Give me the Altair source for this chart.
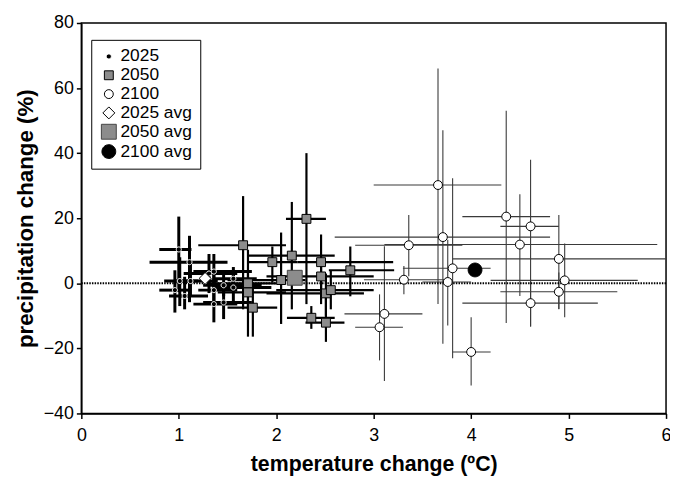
import altair as alt
import pandas as pd

# ---------------- data ----------------
# 2025 individual models: best estimate and error ranges
t25 = [1.00, 1.11, 1.01, 1.12, 0.96, 1.06, 1.31, 1.36, 1.36, 1.46, 1.56, 1.56, 1.36, 1.46]
p25 = [10.4, 6.5, 0.7, 0.7, -2.1, -3.9, 3.0, 3.6, -2.1, -0.6, 1.4, -1.3, -6.4, -5.9]
t25_lo = [0.80, 0.70, 0.85, 0.95, 0.80, 0.90, 1.05, 1.15, 1.20, 1.25, 1.35, 1.35, 1.15, 1.25]
t25_hi = [1.13, 1.50, 1.20, 1.40, 1.10, 1.30, 1.60, 1.75, 1.60, 1.85, 1.80, 1.95, 1.60, 1.75]
p25_lo = [-2.7, -5.8, -7.0, -4.0, -9.0, -8.0, -3.0, -2.0, -7.0, -4.0, -2.0, -6.0, -12.0, -11.0]
p25_hi = [20.5, 14.6, 8.0, 7.0, 4.0, 2.0, 9.0, 9.0, 3.0, 4.0, 5.0, 3.0, -1.0, -2.0]

# 2050 individual models
t50 = [1.66, 2.31, 2.16, 1.96, 2.46, 2.76, 2.46, 2.05, 1.71, 1.71, 1.76, 2.51, 2.56, 2.36, 2.51]
p50 = [11.7, 19.8, 8.5, 6.5, 6.5, 4.0, 2.1, 1.0, 0.0, -2.8, -7.5, -3.1, -2.1, -10.6, -12.1]
t50_lo = [1.20, 2.10, 1.71, 1.71, 2.22, 2.54, 1.90, 1.50, 1.30, 1.40, 1.50, 1.90, 2.00, 2.11, 2.30]
t50_hi = [2.10, 2.51, 2.60, 2.22, 3.20, 3.21, 3.00, 2.30, 2.00, 2.10, 2.01, 2.90, 3.00, 2.60, 2.70]
p50_lo = [-8.0, -6.4, -8.0, 0.3, -6.4, -4.0, -3.0, -12.5, -16.4, -8.0, -16.4, -10.0, -8.0, -14.0, -18.0]
p50_hi = [26.8, 40.0, 25.0, 11.3, 15.0, 11.3, 8.0, 15.6, 10.3, 4.0, 0.0, 3.0, 4.0, -7.0, -3.0]

# 2100 individual models
t100 = [3.66, 3.71, 3.36, 3.81, 3.31, 3.76, 3.11, 3.06, 4.00, 4.36, 4.61, 4.50, 4.90, 4.96, 4.90, 4.61]
p100 = [30.2, 14.2, 11.7, 4.6, 1.1, 0.4, -9.4, -13.5, -21.1, 20.5, 17.5, 11.9, 7.5, 0.9, -2.6, -6.1]
t100_lo = [3.00, 2.60, 2.81, 3.30, 2.90, 3.50, 2.70, 2.81, 3.81, 3.91, 4.30, 3.11, 3.81, 4.20, 4.30, 3.91]
t100_hi = [4.31, 4.81, 3.91, 4.20, 3.74, 4.00, 3.50, 3.30, 4.20, 4.81, 4.90, 5.91, 6.00, 5.71, 5.50, 5.30]
p100_lo = [-6.4, -18.6, 2.2, -23.0, -3.4, -13.0, -30.0, -23.7, -31.4, -12.2, -13.3, -3.9, -7.9, -10.4, -8.0, -13.3]
p100_hi = [66.0, 47.0, 21.0, 32.3, 5.3, 13.4, 11.4, -3.4, -10.4, 53.0, 38.0, 27.4, 21.0, 12.2, 3.3, 1.2]

# ensemble averages
avg_names = ["2025 avg", "2050 avg", "2100 avg"]
avg_t = [1.27, 2.19, 4.04]
avg_p = [1.5, 1.7, 4.1]

series_names = ["2025", "2050", "2100", "2025 avg", "2050 avg", "2100 avg"]
x_ticks = [0, 1, 2, 3, 4, 5, 6]
y_ticks = [-40, -20, 0, 20, 40, 60, 80]
zero_line = [0]

# ---------------- tables ----------------
def bars(t, p, lo, hi, plo, phi):
    return pd.DataFrame({"t": t, "p": p, "tlo": lo, "thi": hi, "plo": plo, "phi": phi})

b25 = bars(t25, p25, t25_lo, t25_hi, p25_lo, p25_hi)
b50 = bars(t50, p50, t50_lo, t50_hi, p50_lo, p50_hi)
b100 = bars(t100, p100, t100_lo, t100_hi, p100_lo, p100_hi)

pts = pd.concat([
    pd.DataFrame({"t": t100, "p": p100, "series": "2100"}),
    pd.DataFrame({"t": t50, "p": p50, "series": "2050"}),
    pd.DataFrame({"t": t25, "p": p25, "series": "2025"}),
    pd.DataFrame({"t": avg_t, "p": avg_p, "series": avg_names}),
], ignore_index=True)
pts["order"] = range(len(pts))

# ---------------- symbol shapes (unit box -1..1, scaled by SYM) ----------------
SYM = 240  # symbol size -> sqrt(240)/2 = 7.75 px per unit


def circle(r):
    return f"M{-r},0A{r},{r},0,1,1,{r},0A{r},{r},0,1,1,{-r},0Z"


def square(h):
    return f"M{-h},{-h}H{h}V{h}H{-h}Z"


def diamond(h):
    return f"M{-h},0L0,{-h}L{h},0L0,{h}Z"


shape_range = [circle(0.33), square(0.58), circle(0.58),
               diamond(0.78), square(0.97), circle(0.9)]

X_TITLE = "temperature change (ºC)"
Y_TITLE = "precipitation change (%)"
xs = alt.Scale(domain=[0, 6], nice=False)
ys = alt.Scale(domain=[-40, 80], nice=False)
xax = alt.Axis(values=x_ticks, title=X_TITLE)
yax = alt.Axis(values=y_ticks, title=Y_TITLE)


def err_layers(df, color, width):
    base = alt.Chart(df)
    h = base.mark_rule(color=color, strokeWidth=width).encode(
        x=alt.X("tlo:Q", scale=xs, axis=xax), x2="thi:Q",
        y=alt.Y("p:Q", scale=ys, axis=yax))
    v = base.mark_rule(color=color, strokeWidth=width).encode(
        x=alt.X("t:Q", scale=xs, axis=xax),
        y=alt.Y("plo:Q", scale=ys, axis=yax), y2="phi:Q")
    return [h, v]


zero = alt.Chart(pd.DataFrame({"p": zero_line})).mark_rule(
    color="black", strokeWidth=2, strokeDash=[1.5, 1.2]
).encode(y=alt.Y("p:Q", scale=ys, axis=yax))

legend = alt.Legend(
    title=None, orient="none", legendX=10, legendY=17,
    padding=8, strokeColor="black", fillColor="white",
    labelFontSize=17.5, labelFont="Liberation Sans", labelColor="black",
    rowPadding=0, labelOffset=3, symbolOffset=1, symbolStrokeWidth=1,
    symbolSize=SYM,
)

points = alt.Chart(pts).mark_point(
    opacity=1, fillOpacity=1, strokeWidth=1, size=SYM
).encode(
    x=alt.X("t:Q", scale=xs, axis=xax),
    y=alt.Y("p:Q", scale=ys, axis=yax),
    shape=alt.Shape("series:N", legend=legend, scale=alt.Scale(
        domain=series_names, range=shape_range)),
    fill=alt.Fill("series:N", legend=legend, scale=alt.Scale(
        domain=series_names,
        range=["black", "#8c8c8c", "white", "white", "#8c8c8c", "black"])),
    stroke=alt.Stroke("series:N", legend=legend, scale=alt.Scale(
        domain=series_names,
        range=["white", "black", "black", "black", "#444444", "black"])),
    order=alt.Order("order:Q"),
)

layers = []
layers += err_layers(b100, "#3a3a3a", 1.1)
layers += err_layers(b50, "black", 2.2)
layers += err_layers(b25, "black", 3)
layers += [zero, points]

chart = alt.layer(*layers).properties(
    width=590, height=394,
    autosize=alt.AutoSizeParams(type="none"),
    padding={"left": 74, "top": 13, "right": 4, "bottom": 62},
).configure_view(
    stroke="black", strokeWidth=1.5
).configure_axis(
    grid=False, domainColor="black", domainWidth=1.5, tickColor="black",
    tickWidth=1.5, tickSize=5, labelColor="black", titleColor="black",
    labelFont="Liberation Sans", titleFont="Liberation Sans",
    labelFontSize=18, titleFontWeight="bold", labelFlush=False,
).configure_axisX(
    titlePadding=10, titleFontSize=21.5, labelPadding=8
).configure_axisY(
    titlePadding=6, titleFontSize=22.5, labelPadding=3
)

chart.save("out.html", embed_options={"renderer": "svg", "actions": False})
